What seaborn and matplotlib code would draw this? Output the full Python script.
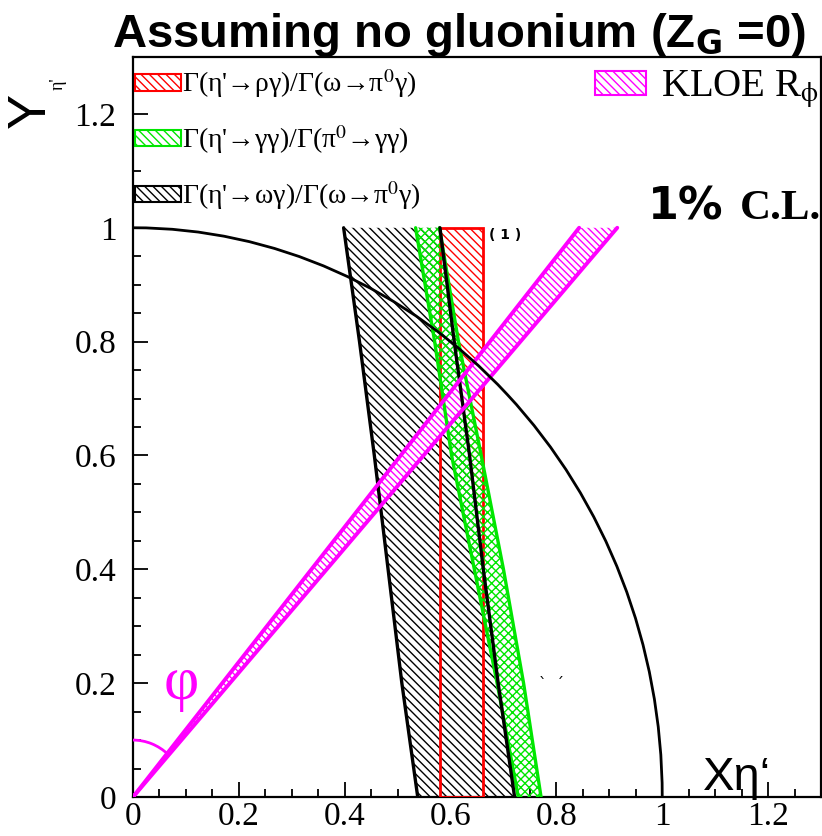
import math
import numpy as np
import pandas as pd
import matplotlib
matplotlib.use("Agg")
import matplotlib.pyplot as plt
import seaborn as sns
from matplotlib.patches import Arc, Rectangle, Patch
from matplotlib.ticker import MultipleLocator, FuncFormatter

# ---------------- data ----------------
band_y = [0.0, 0.2, 0.4, 0.6, 0.8, 1.0]
omega_left_x = [0.538, 0.508, 0.482, 0.456, 0.428, 0.398]    # eta'->omega gamma band
omega_right_x = [0.721, 0.690, 0.662, 0.636, 0.607, 0.580]
gamma_left_x = [0.728, 0.688, 0.645, 0.602, 0.570, 0.534]    # eta'->gamma gamma band
gamma_right_x = [0.771, 0.738, 0.700, 0.658, 0.615, 0.579]
rho_x_range = [0.581, 0.662]                                 # eta'->rho gamma band
rho_y_top = 1.0
kloe_x_at_top = [0.843, 0.915]                               # KLOE R_phi lines reach y=1 here
kloe_y_top = 1.0
circle_radius = 1.0
phi_arc_radius = 0.1

legend_labels = [
    "Γ(η'→ργ)/Γ(ω→π$^{0}$γ)",
    "Γ(η'→γγ)/Γ(π$^{0}$→γγ)",
    "Γ(η'→ωγ)/Γ(ω→π$^{0}$γ)",
]
kloe_label = r"KLOE R$_{\mathrm{\phi}}$"
tick_values = [0.0, 0.2, 0.4, 0.6, 0.8, 1.0, 1.2]

# ---------------- style ----------------
sns.set_theme(style="ticks")
plt.rcParams["font.family"] = ["Liberation Serif", "DejaVu Serif"]
plt.rcParams["mathtext.fontset"] = "stix"
plt.rcParams["hatch.linewidth"] = 1.0
plt.rcParams["text.color"] = "black"
plt.rcParams["xtick.labelcolor"] = "black"
plt.rcParams["ytick.labelcolor"] = "black"

RED = "#ff0000"
GREEN = "#00e600"
MAG = "#ff00ff"

fig = plt.figure(figsize=(8.22, 8.36), dpi=100)
W, H = 822, 836
ax = fig.add_axes([133 / W, 1 - 797 / H, 688 / W, 740 / H])
ax.set_xlim(0, 1.3)
ax.set_ylim(0, 1.3)
ax.set_facecolor("white")

# red band (hatch)
ax.fill_between(rho_x_range, 0, rho_y_top, facecolor="none", edgecolor=RED,
                hatch="\\\\\\\\", linewidth=0, zorder=1)
# black band (white fill + hatch)
ax.fill_betweenx(band_y, omega_left_x, omega_right_x, facecolor="white",
                 edgecolor="black", hatch="\\\\\\\\", linewidth=0, zorder=2)
# red outline
ax.add_patch(Rectangle((rho_x_range[0], 0), rho_x_range[1] - rho_x_range[0], rho_y_top,
                       fill=False, edgecolor=RED, linewidth=2.0, zorder=3))
# green band
ax.fill_betweenx(band_y, gamma_left_x, gamma_right_x, facecolor="none",
                 edgecolor=GREEN, hatch="xxxx", linewidth=0, zorder=4)
# magenta band
ax.fill_betweenx([0, kloe_y_top], [0, kloe_x_at_top[0]], [0, kloe_x_at_top[1]],
                 facecolor="white", edgecolor=MAG, hatch="\\\\\\\\\\", linewidth=0, zorder=5)

# edges via seaborn
for xs, c, lw in [(gamma_left_x, GREEN, 2.4), (gamma_right_x, GREEN, 2.4),
                  (omega_left_x, "black", 2.4), (omega_right_x, "black", 2.4)]:
    sns.lineplot(x=xs, y=band_y, color=c, linewidth=lw, sort=False,
                 estimator=None, ax=ax, zorder=6)
for xe in kloe_x_at_top:
    sns.lineplot(x=[0, xe], y=[0, kloe_y_top], color=MAG, linewidth=2.8,
                 sort=False, estimator=None, ax=ax, zorder=7)

# unit circle
ax.add_patch(Arc((0, 0), 2 * circle_radius, 2 * circle_radius, theta1=0, theta2=90,
                 color="black", linewidth=2.0, zorder=8))
# phi arc
phi_line_angle = math.degrees(math.atan2(kloe_y_top, sum(kloe_x_at_top) / 2))
ax.add_patch(Arc((0, 0), 2 * phi_arc_radius, 2 * phi_arc_radius,
                 theta1=phi_line_angle, theta2=90, color=MAG, linewidth=2.0, zorder=8))

ax.text(0.091, 0.198, "φ", color=MAG, fontsize=44, ha="center", va="center",
        family=["Liberation Serif"], zorder=9)
ax.text(0.672, 0.988, "( 1 )", color="black", fontsize=10, fontweight="bold",
        ha="left", va="center", family=["DejaVu Sans"], zorder=9)
ax.text(0.79, 0.197, "ˋ  ˊ", color="black", fontsize=11, ha="center", va="center",
        family=["DejaVu Sans"], zorder=9)

# axes ticks
for s in ax.spines.values():
    s.set_visible(True)
    s.set_color("black")
    s.set_linewidth(1.6)
ax.xaxis.set_major_locator(MultipleLocator(0.2))
ax.xaxis.set_minor_locator(MultipleLocator(0.05))
ax.yaxis.set_major_locator(MultipleLocator(0.2))
ax.yaxis.set_minor_locator(MultipleLocator(0.05))
fmt = FuncFormatter(lambda v, p: "%g" % round(v, 3))
ax.xaxis.set_major_formatter(fmt)
ax.yaxis.set_major_formatter(fmt)
ax.tick_params(which="major", direction="in", length=11, width=1.3, color="black",
               labelsize=24, top=False, right=False)
ax.tick_params(which="minor", direction="in", length=5.5, width=1.3, color="black",
               top=False, right=False)
ax.tick_params(axis="x", which="major", pad=3)
ax.tick_params(axis="y", which="major", pad=12)
for lab in ax.get_xticklabels() + ax.get_yticklabels():
    lab.set_family("Liberation Serif")
    lab.set_color("black")

# legends
handles = [Patch(facecolor="white", edgecolor=c, hatch="\\\\\\\\", linewidth=1.5)
           for c in (RED, GREEN, "black")]
leg = ax.legend(handles, legend_labels, loc="upper left", bbox_to_anchor=(0.003, 0.986),
                frameon=False, fontsize=20, handlelength=1.65, handleheight=0.52,
                handletextpad=0.05, labelspacing=0.82, borderaxespad=0, borderpad=0)
for t in leg.get_texts():
    t.set_color("black")
ax.add_artist(leg)
leg2 = ax.legend([Patch(facecolor="white", edgecolor=MAG, hatch="\\\\\\\\", linewidth=1.5)],
                 [kloe_label], loc="upper left", bbox_to_anchor=(0.672, 0.985),
                 frameon=False, fontsize=28, handlelength=1.3, handleheight=0.56,
                 handletextpad=0.4, borderaxespad=0, borderpad=0)
for t in leg2.get_texts():
    t.set_color("black")

# titles & labels
fig.text(459 / W, 1 - 47 / H, r"Assuming no gluonium (Z$_{\mathbf{G}}$ =0)",
         ha="center", va="baseline", fontsize=34, fontweight="bold", color="black",
         family=["Liberation Sans"], math_fontfamily="dejavusans")
fig.text(648 / W, 1 - 219 / H, "1%", ha="left", va="baseline", fontsize=32,
         fontweight="bold", color="black", family=["DejaVu Sans"])
fig.text(821 / W, 1 - 219 / H, "C.L.", ha="right", va="baseline", fontsize=31,
         fontweight="bold", color="black", family=["Liberation Serif"])
fig.text(703 / W, 1 - 790 / H, "Xη‘", ha="left", va="baseline", fontsize=34,
         color="black", family=["Liberation Sans"])
fig.text(31 / W, 1 - 110 / H, "Y", ha="center", va="center", rotation=90,
         fontsize=38, color="black", family=["Liberation Sans"])
fig.text(58 / W, 1 - 84 / H, "η'", ha="center", va="center", rotation=90,
         fontsize=13, color="black", family=["Liberation Serif"])

fig.savefig("out.png", dpi=100)
